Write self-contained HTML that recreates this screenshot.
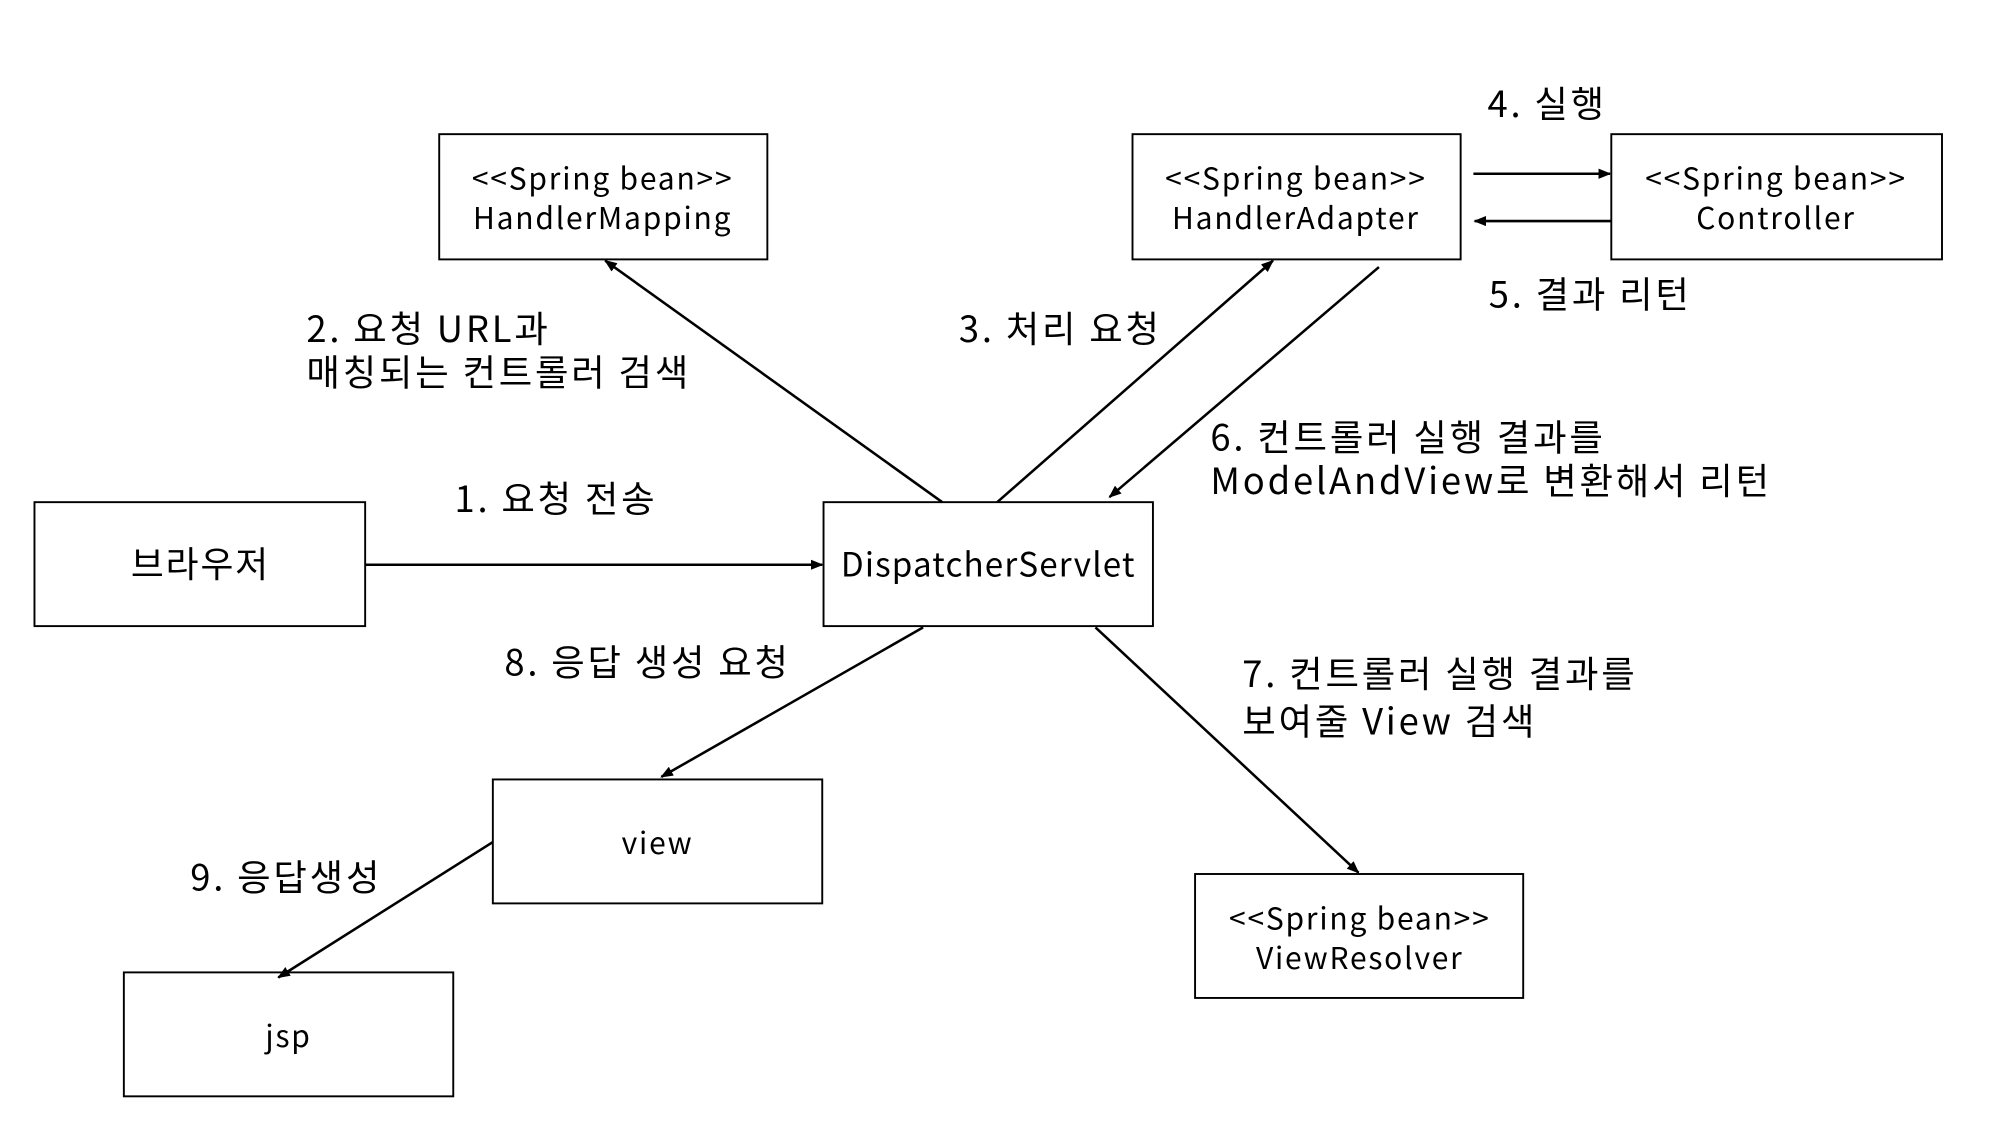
<!DOCTYPE html>
<html><head><meta charset="utf-8"><style>
html,body{margin:0;padding:0;background:#fff;}
svg{display:block;}
text{font-family:"Noto Sans CJK KR",sans-serif;fill:#000;dominant-baseline:middle;}
.b{font-size:23.5px;text-anchor:middle;letter-spacing:1.4px;}
.l{font-size:28.5px;letter-spacing:2.2px;}
rect{fill:#fff;stroke:#000;stroke-width:1.5;}
line{stroke:#000;stroke-width:2;marker-end:url(#a);}
</style></head><body>
<svg width="2002" height="1127" viewBox="0 0 1568 882" preserveAspectRatio="none">
<defs><marker id="a" markerWidth="10" markerHeight="8" refX="9" refY="4" orient="auto" markerUnits="userSpaceOnUse"><path d="M0,0 L10,4 L0,8 z" fill="#000"/></marker></defs>
<rect x="344" y="105" width="257" height="98"/>
<text class="b" x="472" y="142">&lt;&lt;Spring bean&gt;&gt;</text>
<text class="b" x="472" y="173">HandlerMapping</text>
<rect x="887" y="105" width="257" height="98"/>
<text class="b" x="1015" y="142">&lt;&lt;Spring bean&gt;&gt;</text>
<text class="b" x="1015" y="173">HandlerAdapter</text>
<rect x="1262" y="105" width="259" height="98"/>
<text class="b" x="1391" y="142">&lt;&lt;Spring bean&gt;&gt;</text>
<text class="b" x="1391" y="173">Controller</text>
<rect x="27" y="393" width="259" height="97"/>
<text class="b" x="157" y="444" style="font-size:28px;letter-spacing:1.5px">브라우저</text>
<rect x="645" y="393" width="258" height="97"/>
<text class="b" x="774" y="444" style="font-size:26px;letter-spacing:0.9px">DispatcherServlet</text>
<rect x="386" y="610" width="258" height="97"/>
<text class="b" x="515" y="662">view</text>
<rect x="936" y="684" width="257" height="97"/>
<text class="b" x="1065" y="721">&lt;&lt;Spring bean&gt;&gt;</text>
<text class="b" x="1065" y="752">ViewResolver</text>
<rect x="97" y="761" width="258" height="97"/>
<text class="b" x="226" y="813">jsp</text>

<line x1="286" y1="442" x2="644" y2="442"/>
<line x1="738" y1="393" x2="474" y2="204"/>
<line x1="781" y1="393" x2="997" y2="204"/>
<line x1="1080" y1="209" x2="869" y2="389"/>
<line x1="1154" y1="136" x2="1261" y2="136"/>
<line x1="1262" y1="173" x2="1155" y2="173"/>
<line x1="858" y1="491" x2="1064" y2="683"/>
<line x1="723" y1="491" x2="518" y2="608"/>
<line x1="386" y1="659" x2="218" y2="765"/>

<text class="l" x="1165" y="84">4. 실행</text>
<text class="l" x="1166" y="233">5. 결과 리턴</text>
<text class="l" x="240" y="260">2. 요청 URL과</text>
<text class="l" x="240" y="294">매칭되는 컨트롤러 검색</text>
<text class="l" x="751" y="260">3. 처리 요청</text>
<text class="l" x="948" y="345">6. 컨트롤러 실행 결과를</text>
<text class="l" x="948" y="379">ModelAndView로 변환해서 리턴</text>
<text class="l" x="356" y="393">1. 요청 전송</text>
<text class="l" x="395" y="521">8. 응답 생성 요청</text>
<text class="l" x="973" y="530">7. 컨트롤러 실행 결과를</text>
<text class="l" x="973" y="567">보여줄 View 검색</text>
<text class="l" x="149" y="689">9. 응답생성</text>
</svg>
</body></html>
